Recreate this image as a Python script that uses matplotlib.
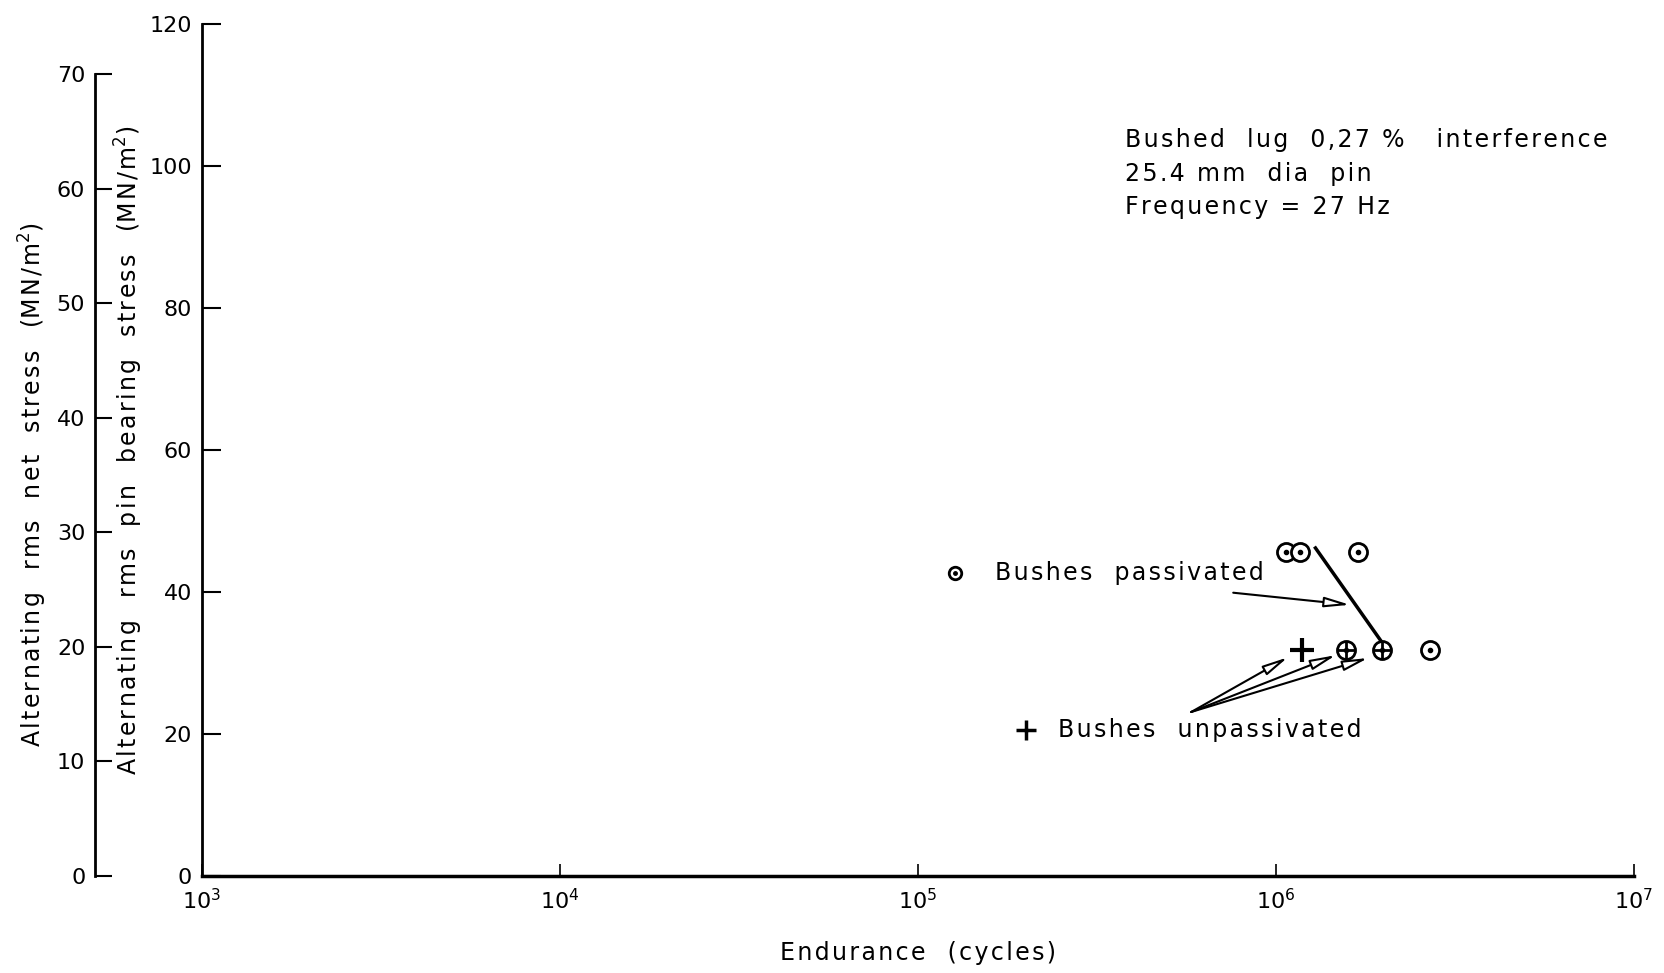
import numpy as np
import matplotlib as mpl
mpl.use('Agg')
import matplotlib.pyplot as plt

mpl.rcParams['font.family'] = 'DejaVu Sans'
mpl.rcParams['font.size'] = 17

# endurance (cycles) and rms pin bearing stress (MN/m2)
pass_N = [1.07e6, 1.17e6, 1.70e6, 1.57e6, 1.98e6, 2.70e6]
pass_S = [45.6, 45.6, 45.6, 31.8, 31.8, 31.8]
unpass_N = [1.18e6, 1.57e6, 1.98e6]
unpass_S = [31.8, 31.8, 31.8]

bear_ticks = [0, 20, 40, 60, 80, 100, 120]
net_ticks = [0, 10, 20, 30, 40, 50, 60, 70]
net_per_bear = 1.6137   # bearing stress units per net stress unit

HS = '\u200a'   # hair space, used for letter spacing


def spaced(s):
    return HS.join(s)


unit_lbl = '(' + spaced('MN/m') + '$^2$)'

fig = plt.figure(figsize=(16.65, 9.73), dpi=100)
ax = fig.add_axes([0.1213, 0.0997, 0.86, 0.8756])

ax.set_xscale('log')
ax.set_xlim(1e3, 1e7)
ax.set_ylim(0, 120)
ax.set_yticks(bear_ticks)
ax.spines['top'].set_visible(False)
ax.spines['right'].set_visible(False)
ax.spines['left'].set_linewidth(2)
ax.spines['bottom'].set_linewidth(2.5)
ax.tick_params(axis='y', direction='in', length=14, width=1.5, pad=7, labelsize=16)
ax.tick_params(axis='x', direction='in', length=9, width=1.2, pad=9, labelsize=16)
ax.tick_params(axis='x', which='minor', length=0)
ax.set_xlabel(spaced('Endurance  (cycles)'), labelpad=20)
ax.set_ylabel(spaced('Alternating  rms  pin  bearing  stress') + '   ' + unit_lbl)
ax.yaxis.set_label_coords(-0.040, 0.50)

# net stress scale on an offset spine
ax2 = fig.add_axes(ax.get_position())
ax2.patch.set_visible(False)
for s in ['top', 'right', 'bottom']:
    ax2.spines[s].set_visible(False)
ax2.set_xticks([])
ax2.set_ylim(0, 120 / net_per_bear)
ax2.set_yticks(net_ticks)
ax2.spines['left'].set_bounds(0, 70)
ax2.spines['left'].set_position(('axes', -0.0747))
ax2.spines['left'].set_linewidth(2)
ax2.tick_params(axis='y', direction='in', length=12, width=1.5, pad=7, labelsize=16)
ax2.set_ylabel(spaced('Alternating  rms  net  stress') + '   ' + unit_lbl)
ax2.yaxis.set_label_coords(-0.107, 0.46)

# passivated points: circle with centre dot
ax.plot(pass_N, pass_S, ls='None', marker='o', ms=13, mfc='white', mec='k', mew=2, zorder=3)
ax.plot(pass_N, pass_S, ls='None', marker='o', ms=3, mfc='k', mec='k', zorder=4)
# unpassivated points: plus, smaller where it sits inside a circle
inside = np.isin(unpass_N, pass_N) & np.isin(unpass_S, pass_S)
un_N = np.array(unpass_N)
un_S = np.array(unpass_S)
ax.plot(un_N[inside], un_S[inside], ls='None', marker='+', ms=13, mec='k', mew=2, zorder=5)
ax.plot(un_N[~inside], un_S[~inside], ls='None', marker='+', ms=17, mec='k', mew=3, zorder=5)

# link line
ax.plot([1.29e6, 1.96e6], [46.2, 33.2], c='k', lw=2.5, zorder=2)

# key entries and pointers
ax.plot([1.27e5], [42.7], ls='None', marker='o', ms=9, mfc='white', mec='k', mew=2)
ax.plot([1.27e5], [42.7], ls='None', marker='o', ms=2.5, mfc='k', mec='k')
ax.text(1.64e5, 42.7, spaced('Bushes  passivated'), va='center')
ax.plot([2.0e5], [20.6], ls='None', marker='+', ms=15, mec='k', mew=2.5)
ax.text(2.46e5, 20.6, spaced('Bushes  unpassivated'), va='center')

aprops = dict(arrowstyle='-|>,head_length=0.9,head_width=0.18', fc='white', ec='k', lw=1.5,
              shrinkA=0, shrinkB=0)
ax.annotate('', xy=(1.61e6, 38.2), xytext=(7.6e5, 39.9), arrowprops=aprops)
for tx, ty in [(1.08e6, 30.8), (1.47e6, 31.1), (1.81e6, 30.7)]:
    ax.annotate('', xy=(tx, ty), xytext=(5.8e5, 23.1), arrowprops=aprops)

note = '\n'.join([spaced('Bushed  lug  0,27 %   interference'),
                  spaced('25.4 mm  dia  pin'),
                  spaced('Frequency = 27 Hz')])
fig.text(0.6757, 0.868, note, va='top', ha='left', linespacing=1.48)

plt.savefig('out.png', dpi=100)
